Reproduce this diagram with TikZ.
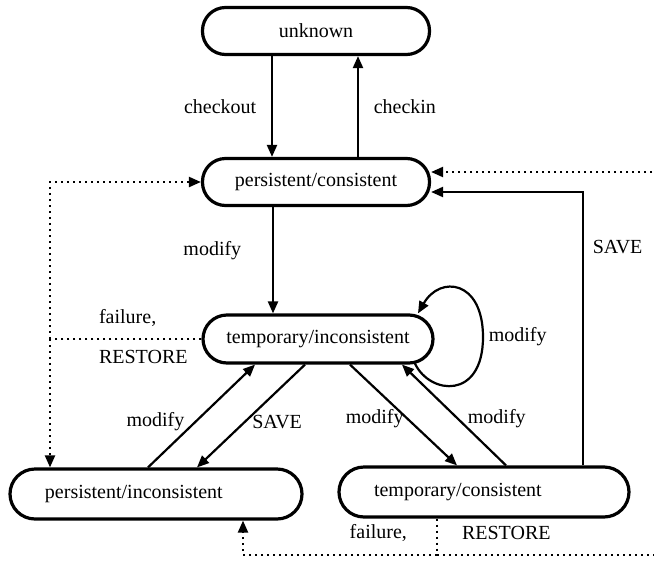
\documentclass[tikz,border=0pt]{standalone}
\usepackage{fontspec}
\setmainfont{Liberation Serif}
\usetikzlibrary{arrows.meta,calc}

\begin{document}
\begin{tikzpicture}[
  x=0.5pt, y=-0.5pt,
  >={Triangle[length=6pt,width=5pt]},
  every node/.style={font=\normalsize},
  state/.style={draw, line width=1.6pt, rounded corners=11.5pt,
                minimum width=113.5pt, minimum height=23.5pt, inner sep=0pt},
  lowstate/.style={state, rounded corners=12.5pt, minimum height=25pt,
                   text width=111pt, align=left, inner xsep=17.5pt},
  move/.style={->, line width=1.1pt},
  fail/.style={line width=1.1pt, dash pattern=on 1pt off 2pt},
]
  \useasboundingbox (0,0) rectangle (654,563);

  \node[state] (unk) at (316,31) {unknown};
  \node[state] (pc) at (316,182) {persistent/consistent};
  \node[state, minimum width=115pt, minimum height=24pt,
        rounded corners=12pt] (ti) at (318,339) {temporary/inconsistent};
  \node[lowstate] (pi) at (156,494) {persistent/inconsistent};
  \node[lowstate, text width=110pt] (tc) at (484,492) {temporary/consistent};

  % check in / out
  \draw[move] ($(unk.south)+(-44,0)$) -- node[left=4pt] {checkout}
    ($(pc.north)+(-44,0)$);
  \draw[move] ($(pc.north)+(42,0)$) -- node[right=4pt] {checkin}
    ($(unk.south)+(42,0)$);
  \draw[move] ($(pc.south)+(-43,0)$) -- node[left=12pt, pos=0.41] {modify}
    ($(ti.north)+(-45,0)$);

  % diagonals
  \draw[move] ($(pi.north)+(-8,0)$) -- node[left=2pt, pos=0.45] {modify}
    ($(ti.south)+(-63,0)$);
  \draw[move] ($(ti.south)+(-13,0)$) -- node[right=0pt, pos=0.56] {SAVE}
    ($(pi.north)+(41,0)$);
  \draw[move] ($(ti.south)+(32,0)$) -- node[pos=0.54, anchor=east,
    xshift=1.8pt] {modify} ($(tc.north)+(-27,0)$);
  \draw[move] ($(tc.north)+(22,0)$) -- node[right=1pt, pos=0.46] {modify}
    ($(ti.south)+(84,0)$);

  % self loop
  \draw[move] ($(ti.south)+(97,-1)$) .. controls (430,395) and (483,400) ..
    (483,337) node[right=-1pt] {modify} .. controls (483,280) and (440,275) ..
    ($(ti.north)+(100,0)$);

  % save back
  \draw[move] ($(tc.north)+(99,0)$) |- node[pos=0.4, right=1pt] {SAVE}
    ($(pc.east)+(0,10)$);

  % failure paths
  \coordinate (jl) at (50,339);
  \draw[fail] (ti.west) -- (jl);
  \draw[fail, ->] (jl) |- (pc.west);
  \draw[fail, ->] (jl) -- (jl |- pi.north);
  \node[anchor=west] (fl) at (92,318) {failure,};
  \node[anchor=west] (rl) at (92,357) {RESTORE};

  \coordinate (jb) at (437,555);
  \coordinate (jr) at (668,555);
  \draw[fail] ($(tc.south)+(-47,0)$) -- (jb);
  \draw[fail, ->] (jb) -| ($(pi.south)+(87,0)$);
  \draw[fail, ->] (jb) -- (jr) |- ($(pc.east)+(0,-10)$);
  \node[anchor=east] (fb) at (414,533) {failure,};
  \node[anchor=west] (rb) at (455,533) {RESTORE};
\end{tikzpicture}
\end{document}
